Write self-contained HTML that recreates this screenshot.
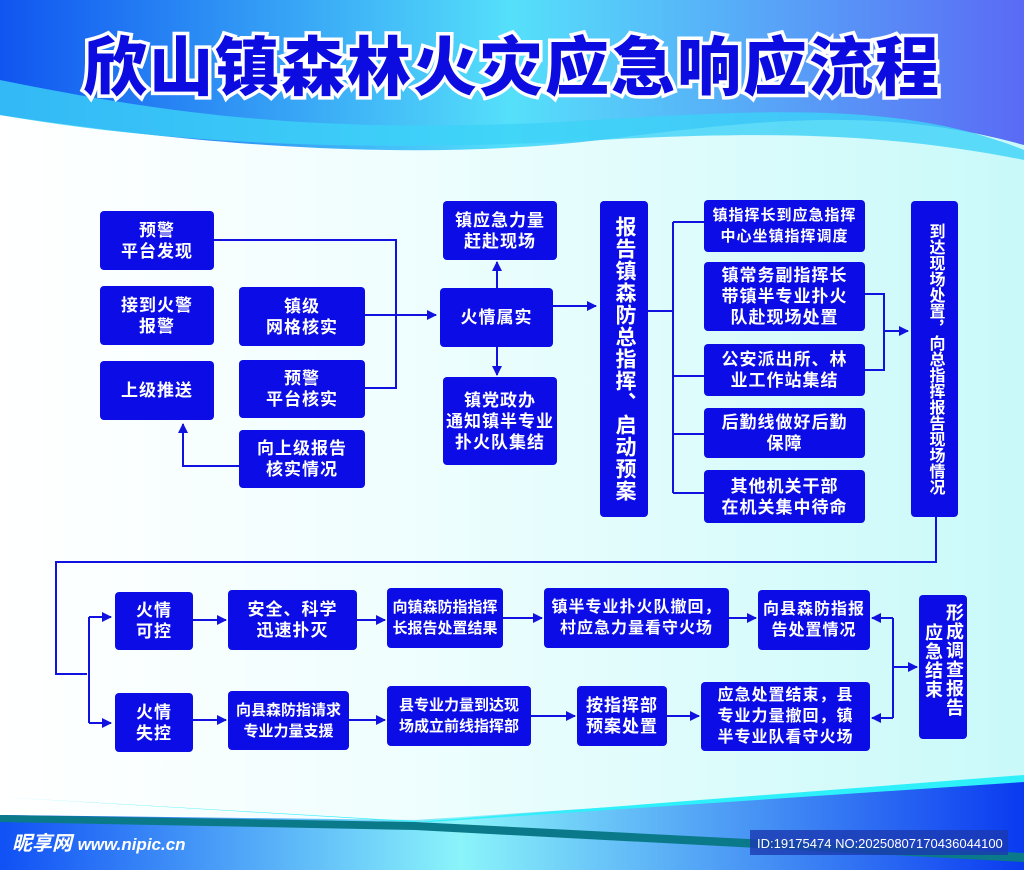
<!DOCTYPE html>
<html><head><meta charset="utf-8"><style>
*{margin:0;padding:0;box-sizing:border-box}
body{width:1024px;height:870px;overflow:hidden;position:relative;font-family:"Liberation Sans","Noto Sans CJK SC",sans-serif;background:linear-gradient(90deg,#ffffff 0%,#effefe 40%,#c9f9f9 100%)}
.b{position:absolute;background:#0c0ce6;color:#fff;font-weight:bold;border-radius:4px;display:flex;align-items:center;justify-content:center;text-align:center;font-size:17px;line-height:21px;letter-spacing:1px}
.v{writing-mode:vertical-rl;font-size:17px;line-height:20px}
svg{position:absolute;left:0;top:0}
</style></head><body>
<svg width="1024" height="870">
<defs>
<linearGradient id="hg" x1="0" x2="1"><stop offset="0" stop-color="#1055f0"/><stop offset="0.5" stop-color="#55e0fa"/><stop offset="1" stop-color="#5a6af5"/></linearGradient>
<linearGradient id="fg" x1="0" x2="1"><stop offset="0" stop-color="#1050f5"/><stop offset="0.45" stop-color="#8af4fa"/><stop offset="1" stop-color="#0a3af0"/></linearGradient>
<marker id="a" markerWidth="10" markerHeight="10" refX="9" refY="5" orient="auto" markerUnits="userSpaceOnUse"><path d="M0,0 L10,5 L0,10 Z" fill="#1212e0"/></marker>
</defs>
<path d="M0,0 H1024 V145 C880,105 760,120 600,140 C430,160 230,150 0,115 Z" fill="url(#hg)"/>
<path d="M0,80 C150,110 300,135 560,122 C760,110 900,100 1024,150 V160 C900,135 780,130 600,140 C420,150 200,150 0,115 Z" fill="#3cd2f8" opacity="0.8"/>
<path d="M0,870 V815 L415,820 L1024,780 V870 Z" fill="url(#fg)"/>
<path d="M0,815 L415,822 L1024,853 V862 L415,830 L0,822 Z" fill="#0a7a8a"/>
<path d="M0,797 L415,822 L1024,775 V782 L430,822 Z" fill="#2ef0fa"/>
<text x="12" y="850" font-size="20" font-weight="bold" font-style="italic" fill="#fff" font-family="Liberation Sans,Noto Sans CJK SC,sans-serif">昵享网 <tspan font-size="17">www.nipic.cn</tspan></text>
<rect x="750" y="830" width="258" height="25" fill="#1a3ab0" opacity="0.8"/>
<text x="757" y="848" font-size="13" fill="#fff" font-family="Liberation Sans,sans-serif">ID:19175474 NO:20250807170436044100</text>
<text x="512" y="90" text-anchor="middle" font-size="64" font-weight="900" fill="#0c0ce0" stroke="#fff" stroke-width="7" paint-order="stroke" letter-spacing="2" font-family="Liberation Sans,Noto Sans CJK SC,sans-serif">欣山镇森林火灾应急响应流程</text>
<g stroke="#1212e0" stroke-width="2" fill="none">
<path d="M214,240 H396 V388 H365"/>
<path d="M365,315 H436" marker-end="url(#a)"/>
<path d="M239,466 H183 V424" marker-end="url(#a)"/>
<path d="M497,288 V262" marker-end="url(#a)"/>
<path d="M497,347 V375" marker-end="url(#a)"/>
<path d="M553,306 H596" marker-end="url(#a)"/>
<path d="M648,311 H673 M673,222 V493 M673,222 H704 M673,376 H704 M673,434 H704 M673,493 H704"/>
<path d="M865,294 H884 V370 H865"/>
<path d="M884,331 H908" marker-end="url(#a)"/>
<path d="M936,517 V562 H56 V674 H87 M89,617 V723"/>
<path d="M89,617 H111" marker-end="url(#a)"/>
<path d="M89,723 H111" marker-end="url(#a)"/>
<path d="M193,620 H226" marker-end="url(#a)"/>
<path d="M357,620 H385" marker-end="url(#a)"/>
<path d="M503,618 H542" marker-end="url(#a)"/>
<path d="M729,618 H756" marker-end="url(#a)"/>
<path d="M193,720 H226" marker-end="url(#a)"/>
<path d="M349,720 H385" marker-end="url(#a)"/>
<path d="M531,716 H575" marker-end="url(#a)"/>
<path d="M667,716 H699" marker-end="url(#a)"/>
<path d="M893,618 V718 M893,667 H917" marker-end="url(#a)"/>
<path d="M893,618 H872" marker-end="url(#a)"/>
<path d="M893,718 H872" marker-end="url(#a)"/>
</g>
</svg>
<div class="b" style="left:100px;top:211px;width:114px;height:59px">预警<br>平台发现</div>
<div class="b" style="left:100px;top:286px;width:114px;height:59px">接到火警<br>报警</div>
<div class="b" style="left:100px;top:361px;width:114px;height:59px">上级推送</div>
<div class="b" style="left:239px;top:287px;width:126px;height:59px">镇级<br>网格核实</div>
<div class="b" style="left:239px;top:360px;width:126px;height:58px">预警<br>平台核实</div>
<div class="b" style="left:239px;top:430px;width:126px;height:58px">向上级报告<br>核实情况</div>
<div class="b" style="left:440px;top:288px;width:113px;height:59px">火情属实</div>
<div class="b" style="left:443px;top:201px;width:114px;height:59px">镇应急力量<br>赶赴现场</div>
<div class="b" style="left:443px;top:377px;width:114px;height:88px">镇党政办<br>通知镇半专业<br>扑火队集结</div>
<div class="b v" style="left:600px;top:201px;width:48px;height:316px;font-size:21px;line-height:24px;letter-spacing:1px">报告镇森防总指挥、启动预案</div>
<div class="b" style="left:704px;top:200px;width:161px;height:52px;font-size:15px">镇指挥长到应急指挥<br>中心坐镇指挥调度</div>
<div class="b" style="left:704px;top:262px;width:161px;height:69px">镇常务副指挥长<br>带镇半专业扑火<br>队赴现场处置</div>
<div class="b" style="left:704px;top:344px;width:161px;height:52px">公安派出所、林<br>业工作站集结</div>
<div class="b" style="left:704px;top:408px;width:161px;height:50px">后勤线做好后勤<br>保障</div>
<div class="b" style="left:704px;top:470px;width:161px;height:53px">其他机关干部<br>在机关集中待命</div>
<div class="b v" style="left:911px;top:201px;width:47px;height:316px;font-size:16px;line-height:18px;letter-spacing:0">到达现场处置，向总指挥报告现场情况</div>
<div class="b" style="left:115px;top:592px;width:78px;height:58px">火情<br>可控</div>
<div class="b" style="left:228px;top:590px;width:129px;height:60px">安全、科学<br>迅速扑灭</div>
<div class="b" style="left:387px;top:588px;width:116px;height:60px;font-size:15px;letter-spacing:0">向镇森防指指挥<br>长报告处置结果</div>
<div class="b" style="left:544px;top:588px;width:185px;height:60px;font-size:16px">镇半专业扑火队撤回，<br>村应急力量看守火场</div>
<div class="b" style="left:758px;top:590px;width:112px;height:60px;font-size:16px">向县森防指报<br>告处置情况</div>
<div class="b" style="left:115px;top:693px;width:78px;height:59px">火情<br>失控</div>
<div class="b" style="left:228px;top:691px;width:121px;height:59px;font-size:15px;letter-spacing:0">向县森防指请求<br>专业力量支援</div>
<div class="b" style="left:387px;top:686px;width:144px;height:60px;font-size:15px;letter-spacing:0">县专业力量到达现<br>场成立前线指挥部</div>
<div class="b" style="left:577px;top:686px;width:90px;height:60px">按指挥部<br>预案处置</div>
<div class="b" style="left:701px;top:682px;width:169px;height:69px;font-size:16px">应急处置结束，县<br>专业力量撤回，镇<br>半专业队看守火场</div>
<div class="b" style="left:919px;top:595px;width:48px;height:144px"><span style="position:absolute;left:26px;top:8px;writing-mode:vertical-rl;line-height:18px;font-size:18px">形成调查报告</span><span style="position:absolute;left:5px;top:28px;writing-mode:vertical-rl;line-height:18px;font-size:18px">应急结束</span></div>
</body></html>
